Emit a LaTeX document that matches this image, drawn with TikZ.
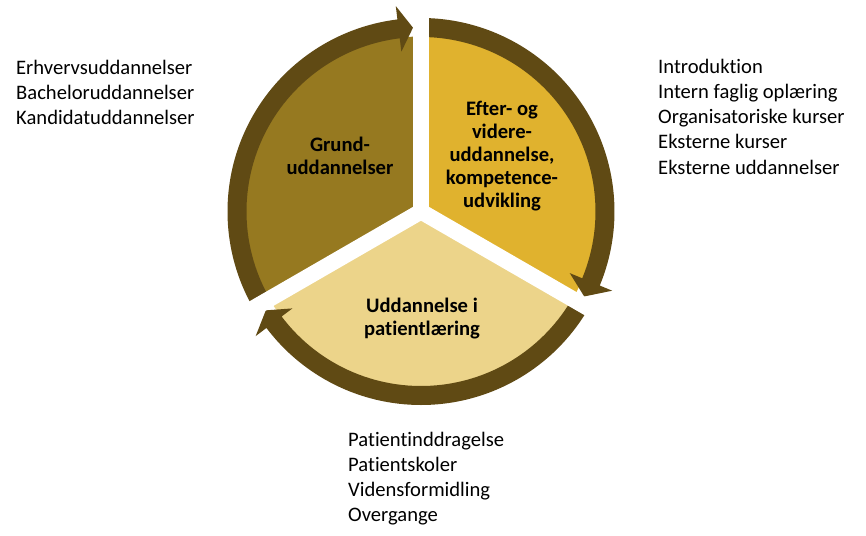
\documentclass[tikz,border=0pt]{standalone}
\usepackage{fontspec}
\setmainfont{Carlito}[Ligatures=NoCommon]
\usepackage{tikz}

\definecolor{ringbrown}{RGB}{96,74,20}
\definecolor{darkgold}{RGB}{150,121,32}
\definecolor{midgold}{RGB}{224,178,46}
\definecolor{lightgold}{RGB}{236,212,138}

\begin{document}
\begin{tikzpicture}[
    x=1pt, y=1pt,
    ring arrow/.style={fill=ringbrown, draw=none},
    pie gap/.style={draw=white, line width=16pt},
    sector label/.style={font=\bfseries\fontsize{20.6}{22.8}\selectfont,
    align=center, text=black},
    item list/.style={font=\fontsize{20.6}{25.3}\selectfont, align=left,
    anchor=north west, inner sep=0pt, text=black}
    ]

\useasboundingbox (-421,211.5) rectangle (445,-323.5);

% the three pie sectors
\fill[darkgold] (0,0) -- (90:175) arc[start angle=90, end angle=210,
    radius=175] -- cycle;
\fill[midgold] (0,0) -- (-30:175) arc[start angle=-30, end angle=90,
    radius=175] -- cycle;
\fill[lightgold] (0,0) -- (210:175) arc[start angle=210, end angle=330,
    radius=175] -- cycle;

% ring of arrows, clockwise
\path[ring arrow]
    (210:193.5) arc[start angle=210, end angle=97, radius=193.5]
    -- (97:207) -- (92.5:184) -- (97:161) -- (97:174.5)
    arc[start angle=97, end angle=210, radius=174.5] -- cycle;

\path[ring arrow]
    (90:193.5) arc[start angle=90, end angle=-22.5, radius=193.5]
    -- (-22.5:207) -- (-27.5:184) -- (-22.5:161) -- (-22.5:174.5)
    arc[start angle=-22.5, end angle=90, radius=174.5] -- cycle;

\path[ring arrow]
    (330:193.5) arc[start angle=330, end angle=217, radius=193.5]
    -- (217:207) -- (212.5:184) -- (217:161) -- (217:174.5)
    arc[start angle=217, end angle=330, radius=174.5] -- cycle;

\draw[pie gap] (0,0) -- (90:220);
\draw[pie gap] (0,0) -- (210:220);
\draw[pie gap] (0,0) -- (-30:220);

\node (grund) [sector label] at (-81,55.5) {Grund-\\uddannelser};
\node (efter) [sector label] at (81,55.5)
    {Efter- og\\videre-\\uddannelse,\\kompetence-\\udvikling};
\node (patient) [sector label] at (1,-107) {Uddannelse i\\patientlæring};

\node (grundlist) [item list] at (-405,152)
    {Erhvervsuddannelser\\Bacheloruddannelser\\Kandidatuddannelser};
\node (efterlist) [item list] at (237,153)
    {Introduktion\\Intern faglig oplæring\\Organisatoriske kurser\\Eksterne kurser\\Eksterne uddannelser};
\node (patientlist) [item list] at (-73,-220)
    {Patientinddragelse\\Patientskoler\\Vidensformidling\\Overgange};

\end{tikzpicture}
\end{document}
